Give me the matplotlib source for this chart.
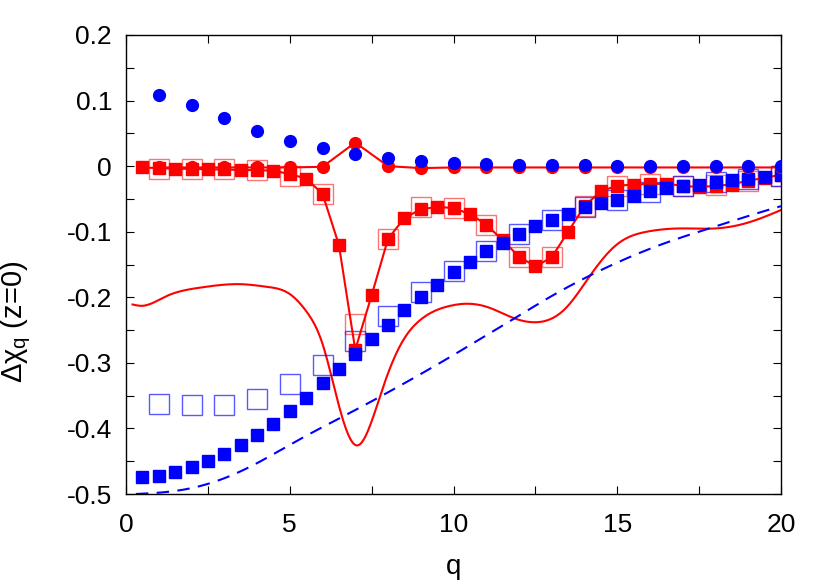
import numpy as np
import matplotlib
matplotlib.use("Agg")
import matplotlib.pyplot as plt
from matplotlib.ticker import MultipleLocator

plt.rcParams['font.family'] = ['Liberation Sans', 'DejaVu Sans']
plt.rcParams['mathtext.fontset'] = 'custom'
plt.rcParams['mathtext.rm'] = 'Liberation Sans'
plt.rcParams['mathtext.it'] = 'Liberation Sans'

# ---------------- data ----------------
q_int = list(range(1, 21))
q_half = [0.5 * i for i in range(1, 41)]

blue_circles = [0.108, 0.093, 0.073, 0.054, 0.039, 0.028, 0.019, 0.013, 0.008, 0.005,
                0.003, 0.002, 0.001, 0.001, 0.000, 0.000, 0.000, 0.000, 0.000, 0.000]

red_circles = [-0.002, -0.002, -0.002, -0.002, -0.002, -0.001, 0.036, 0.000, -0.003, -0.002,
               -0.002, -0.002, -0.002, -0.002, -0.002, -0.002, -0.002, -0.002, -0.002, -0.002]

red_sq_filled = [-0.002, -0.003, -0.004, -0.004, -0.005, -0.005, -0.006, -0.006, -0.007, -0.012,
                 -0.019, -0.042, -0.120, -0.280, -0.197, -0.111, -0.079, -0.066, -0.062, -0.064,
                 -0.073, -0.089, -0.113, -0.138, -0.153, -0.139, -0.100, -0.061, -0.038, -0.030,
                 -0.028, -0.027, -0.027, -0.030, -0.032, -0.030, -0.028, -0.022, -0.018, -0.013]

red_sq_open = [-0.005, -0.005, -0.005, -0.006, -0.015, -0.043, -0.240, -0.111, -0.063, -0.064,
               -0.089, -0.139, -0.139, -0.061, -0.030, -0.027, -0.030, -0.028, -0.022, -0.015]

blue_sq_filled = [-0.474, -0.472, -0.467, -0.459, -0.450, -0.439, -0.425, -0.410, -0.393, -0.374,
                  -0.353, -0.331, -0.309, -0.286, -0.263, -0.242, -0.220, -0.200, -0.181, -0.162,
                  -0.146, -0.130, -0.117, -0.104, -0.092, -0.082, -0.073, -0.063, -0.056, -0.051,
                  -0.045, -0.038, -0.034, -0.030, -0.028, -0.024, -0.021, -0.019, -0.017, -0.013]

blue_sq_open = [-0.363, -0.365, -0.364, -0.355, -0.333, -0.303, -0.266, -0.228, -0.192, -0.160,
                -0.130, -0.104, -0.082, -0.063, -0.051, -0.039, -0.030, -0.024, -0.019, -0.015]

red_curve_q = [0.2, 0.5, 1.2, 2.3, 3.5, 4.3, 5.0, 5.5, 6.0, 6.5, 7.05, 7.35, 7.85, 8.4, 9.0,
               9.9, 10.3, 11.1, 11.8, 12.55, 13.4, 14.2, 15.0, 15.9, 16.9, 18.0, 19.0, 20.0]
red_curve_v = [-0.211, -0.213, -0.199, -0.185, -0.180, -0.184, -0.195, -0.221, -0.271, -0.365,
               -0.426, -0.408, -0.337, -0.271, -0.234, -0.213, -0.210, -0.216, -0.231, -0.238,
               -0.218, -0.165, -0.119, -0.100, -0.095, -0.095, -0.086, -0.067]

blue_curve_q = [0.3, 1, 2, 3, 4, 5, 6, 7, 8, 9, 10, 11, 12, 13, 14, 15, 16, 17, 18, 19, 20]
blue_curve_v = [-0.500, -0.498, -0.491, -0.476, -0.453, -0.425, -0.398, -0.372, -0.345, -0.317,
                -0.288, -0.258, -0.228, -0.198, -0.171, -0.147, -0.126, -0.108, -0.092, -0.076,
                -0.061]

# ---------------- figure ----------------
fig = plt.figure(figsize=(8.30, 5.81), dpi=100)
ax = fig.add_axes([126/830, 1 - 494/581, (781-126)/830, (494-35)/581])

RED = '#ff0000'
BLUE = '#0000ff'

def smooth(xs, ys, n=400):
    xs = np.asarray(xs, float); ys = np.asarray(ys, float)
    xx = np.linspace(xs[0], xs[-1], n)
    h = np.diff(xs)
    m = len(xs)
    A = np.zeros((m, m)); b = np.zeros(m)
    A[0, 0] = A[-1, -1] = 1
    for i in range(1, m - 1):
        A[i, i-1] = h[i-1]; A[i, i] = 2*(h[i-1]+h[i]); A[i, i+1] = h[i]
        b[i] = 3*((ys[i+1]-ys[i])/h[i] - (ys[i]-ys[i-1])/h[i-1])
    c = np.linalg.solve(A, b)
    bb = np.zeros(m-1); d = np.zeros(m-1)
    for i in range(m-1):
        bb[i] = (ys[i+1]-ys[i])/h[i] - h[i]*(2*c[i]+c[i+1])/3
        d[i] = (c[i+1]-c[i])/(3*h[i])
    idx = np.clip(np.searchsorted(xs, xx) - 1, 0, m-2)
    dx = xx - xs[idx]
    yy = ys[idx] + bb[idx]*dx + c[idx]*dx**2 + d[idx]*dx**3
    return xx, yy

xr, yr = smooth(red_curve_q, red_curve_v)
ax.plot(xr, yr, color=RED, lw=1.5, zorder=2)
xb, yb = smooth(blue_curve_q, blue_curve_v)
ax.plot(xb, yb, color=BLUE, lw=1.5, ls=(0, (6, 4)), zorder=2)

# open squares
ax.plot(q_int, red_sq_open, ls='none', marker='s', ms=15, mfc='none',
        mec=RED, mew=1.0, alpha=0.55, zorder=3)
ax.plot(q_int, blue_sq_open, ls='none', marker='s', ms=15, mfc='none',
        mec=BLUE, mew=1.0, alpha=0.65, zorder=3)

# red filled squares with line
ax.plot(q_half, red_sq_filled, color=RED, lw=1.5, marker='s', ms=8,
        mfc=RED, mec=RED, zorder=4)
# blue filled squares
ax.plot(q_half, blue_sq_filled, ls='none', marker='s', ms=8,
        mfc=BLUE, mec=BLUE, zorder=5)

# circles
ax.plot(q_int, red_circles, color=RED, lw=1.5, marker='o', ms=8.5,
        mfc=RED, mec=RED, zorder=6)
ax.plot(q_int, blue_circles, ls='none', marker='o', ms=8.5,
        mfc=BLUE, mec=BLUE, zorder=7)

ax.set_xlim(0, 20)
ax.set_ylim(-0.5, 0.2)
ax.xaxis.set_minor_locator(MultipleLocator(2.5))
ax.yaxis.set_minor_locator(MultipleLocator(0.05))
ax.tick_params(which='both', direction='in', top=True, right=True,
               length=6, width=0.8, labelsize=19)
ax.tick_params(axis='x', pad=14)
ax.tick_params(axis='y', pad=10)
ax.set_xticks([0, 5, 10, 15, 20])
ax.set_xticklabels(['0', '5', '10', '15', '20'])
yt = [-0.5, -0.4, -0.3, -0.2, -0.1, 0, 0.1, 0.2]
ax.set_yticks(yt)
ax.set_yticklabels(['-0.5', '-0.4', '-0.3', '-0.2', '-0.1', '0', '0.1', '0.2'])
for s in ax.spines.values():
    s.set_linewidth(1.0)

ax.set_xlabel('q', fontsize=20, labelpad=12)
ax.set_ylabel(r'$\Delta\chi_{\rm q}$ (z=0)', fontsize=21)
ax.yaxis.set_label_coords(-0.142, 0.375)

fig.savefig('out.png', dpi=100)
